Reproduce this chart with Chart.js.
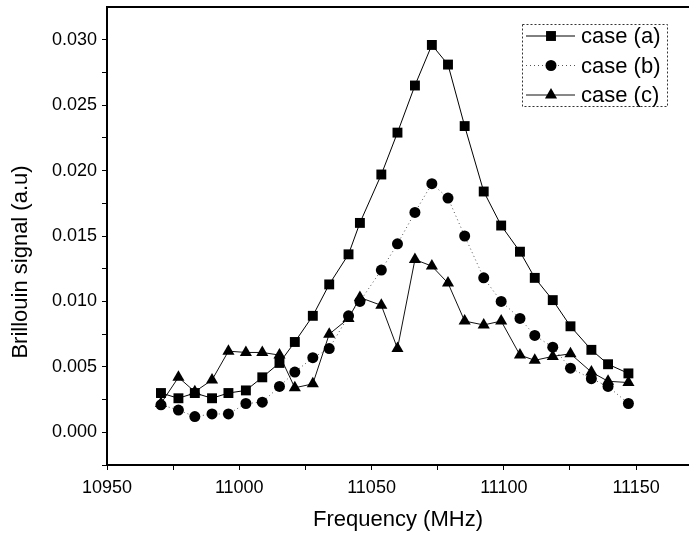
<!DOCTYPE html>
<html>
<head>
<meta charset="utf-8">
<script src="https://cdn.jsdelivr.net/npm/chart.js@4.4.1/dist/chart.umd.min.js"></script>
<style>
  html, body { margin: 0; padding: 0; background: #fff; overflow: hidden; }
  #wrap { position: relative; width: 696px; height: 539px; }
</style>
</head>
<body>
<div id="wrap"><canvas id="brillouinChart" width="696" height="539"></canvas></div>
<script>
// --- data ---
const freqs = [10970.4, 10977.0, 10983.2, 10989.7, 10995.9, 11002.5, 11008.7, 11015.2,
  11021.0, 11027.8, 11034.0, 11041.3, 11045.6, 11053.7, 11059.8, 11066.4, 11072.8,
  11078.9, 11085.2, 11092.4, 11099.0, 11106.1, 11111.7, 11118.5, 11125.2, 11133.1,
  11139.4, 11147.1];
const caseA = [0.0030, 0.0026, 0.0030, 0.0026, 0.0030, 0.0032, 0.0042, 0.0053,
  0.0069, 0.0089, 0.0113, 0.0136, 0.0160, 0.0197, 0.0229, 0.0265, 0.0296,
  0.0281, 0.0234, 0.0184, 0.0158, 0.0138, 0.0118, 0.0101, 0.0081, 0.0063,
  0.0052, 0.0045];
const caseB = [0.0021, 0.0017, 0.0012, 0.0014, 0.0014, 0.0022, 0.0023, 0.0035,
  0.0046, 0.0057, 0.0064, 0.0089, 0.0100, 0.0124, 0.0144, 0.0168, 0.0190,
  0.0179, 0.0150, 0.0118, 0.0100, 0.0087, 0.0074, 0.0065, 0.0049, 0.0041,
  0.0035, 0.0022];
const caseC = [0.0022, 0.0042, 0.0031, 0.0040, 0.0062, 0.0061, 0.0061, 0.0059,
  0.0034, 0.0037, 0.0075, 0.0087, 0.0103, 0.0097, 0.0064, 0.0132, 0.0127,
  0.0114, 0.0085, 0.0082, 0.0085, 0.0059, 0.0055, 0.0058, 0.0060, 0.0046,
  0.0039, 0.0038];
const seriesLabels = ['case (a)', 'case (b)', 'case (c)'];
const xTickValues = [10950, 10975, 11000, 11025, 11050, 11075, 11100, 11125, 11150];
const yTickValues = [-0.0025, 0, 0.0025, 0.005, 0.0075, 0.01, 0.0125, 0.015, 0.0175,
  0.02, 0.0225, 0.025, 0.0275, 0.03];
const xTitle = 'Frequency (MHz)';
const yTitle = 'Brillouin signal (a.u)';

const FONT = '"Liberation Sans", Arial, sans-serif';
const toPoints = vals => freqs.map((f, i) => ({ x: f, y: vals[i] }));

// top frame line + rotated y title
const frameExtras = {
  id: 'frameExtras',
  afterDraw(chart) {
    const { ctx, chartArea: a } = chart;
    ctx.save();
    ctx.strokeStyle = '#000';
    ctx.lineWidth = 2;
    ctx.beginPath();
    ctx.moveTo(a.left, a.top);
    ctx.lineTo(a.right + 2, a.top);
    ctx.stroke();

    ctx.translate(21, 262);
    ctx.rotate(-Math.PI / 2);
    ctx.fillStyle = '#000';
    ctx.font = '22px ' + FONT;
    ctx.textAlign = 'center';
    ctx.textBaseline = 'middle';
    ctx.fillText(yTitle, 0, 0);
    ctx.restore();
  }
};

// legend with line through marker, dotted frame
const boxLegend = {
  id: 'boxLegend',
  afterDraw(chart) {
    const ctx = chart.ctx;
    const bx = 522, by = 24, bw = 145, bh = 82;
    ctx.save();
    ctx.strokeStyle = '#333';
    ctx.lineWidth = 1;
    ctx.setLineDash([2, 2]);
    ctx.strokeRect(bx + 0.5, by + 0.5, bw, bh);
    chart.data.datasets.forEach((ds, i) => {
      const y = by + 12 + i * 29.5;
      ctx.setLineDash(ds.borderDash || []);
      ctx.strokeStyle = ds.borderColor;
      ctx.lineWidth = 1;
      ctx.beginPath();
      ctx.moveTo(bx + 4, y);
      ctx.lineTo(bx + 53, y);
      ctx.stroke();
      ctx.setLineDash([]);
      ctx.fillStyle = '#000';
      Chart.helpers.drawPoint(ctx, {
        pointStyle: ds.pointStyle, radius: ds.pointRadius, rotation: 0, borderWidth: 0
      }, bx + 29, y);
      ctx.font = '22px ' + FONT;
      ctx.textBaseline = 'middle';
      ctx.fillText(ds.label, bx + 59, y + 1);
    });
    ctx.restore();
  }
};

new Chart(document.getElementById('brillouinChart'), {
  type: 'line',
  data: {
    datasets: [
      { label: seriesLabels[0], data: toPoints(caseA), borderColor: '#000', backgroundColor: '#000',
        borderWidth: 1, pointStyle: 'rect', pointRadius: 7, pointBorderWidth: 0 },
      { label: seriesLabels[1], data: toPoints(caseB), borderColor: '#555', backgroundColor: '#000',
        borderWidth: 1, borderDash: [1, 3], pointStyle: 'circle', pointRadius: 5.5, pointBorderWidth: 0 },
      { label: seriesLabels[2], data: toPoints(caseC), borderColor: '#111', backgroundColor: '#000',
        borderWidth: 1, pointStyle: 'triangle', pointRadius: 7, pointBorderWidth: 0 }
    ]
  },
  options: {
    responsive: false,
    animation: false,
    devicePixelRatio: 1,
    layout: { padding: { top: 6, left: 0, right: 0, bottom: 0 } },
    plugins: { legend: { display: false }, tooltip: { enabled: false } },
    scales: {
      x: {
        type: 'linear',
        min: 10950,
        max: 11170,
        afterBuildTicks: s => { s.ticks = xTickValues.map(v => ({ value: v })); },
        afterFit: s => { s.height = 74; s.paddingLeft = 0; s.paddingRight = 0; },
        ticks: {
          autoSkip: false, maxRotation: 0, color: '#000', padding: 7,
          font: { family: FONT, size: 18 },
          callback: v => (v % 50 === 0 ? String(v) : '')
        },
        grid: { drawOnChartArea: false, drawTicks: true, tickLength: 5, color: '#000', lineWidth: 1 },
        border: { display: true, color: '#000', width: 2 },
        title: { display: true, text: xTitle, color: '#000',
          font: { family: FONT, size: 22 }, padding: { top: 4, bottom: 6 } }
      },
      y: {
        min: -0.0025,
        max: 0.0325,
        afterBuildTicks: s => { s.ticks = yTickValues.map(v => ({ value: v })); },
        afterFit: s => { s.width = 107; s.paddingTop = 0; s.paddingBottom = 0; },
        ticks: {
          color: '#000', padding: 5,
          font: { family: FONT, size: 18 },
          callback: v => {
            const k = v / 0.005;
            return Math.abs(k - Math.round(k)) < 1e-6 ? v.toFixed(3) : '';
          }
        },
        grid: { drawOnChartArea: false, drawTicks: true, tickLength: 5, color: '#000', lineWidth: 1 },
        border: { display: true, color: '#000', width: 2 }
      }
    }
  },
  plugins: [frameExtras, boxLegend]
});
</script>
</body>
</html>
